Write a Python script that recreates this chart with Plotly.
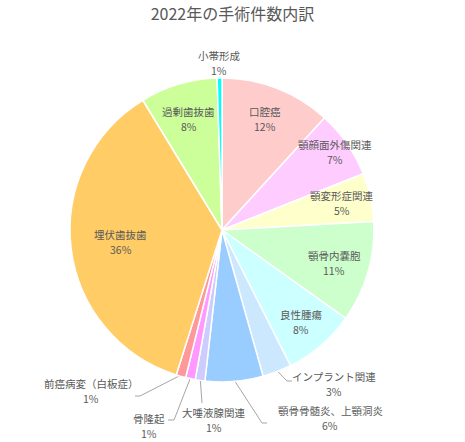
import numpy as np
import plotly.graph_objects as go

# 2022年の手術件数（件数は円グラフの角度から読み取った推定値）
labels = ["口腔癌", "顎顔面外傷関連", "顎変形症関連", "顎骨内嚢胞", "良性腫瘍",
          "インプラント関連", "顎骨骨髄炎、上顎洞炎", "大唾液腺関連", "骨隆起",
          "前癌病変（白板症）", "埋伏歯抜歯", "過剰歯抜歯", "小帯形成"]
counts = [23, 14, 10, 21, 15, 6, 12, 2, 2, 2, 71, 16, 1]
colors = ["#FFCCCC", "#FFCCFF", "#FFFFCC", "#CCFFCC", "#CCFFFF", "#CCE8FF",
          "#99CCFF", "#CCCCFF", "#FF99FF", "#FF9999", "#FFCC66", "#CCFF99",
          "#00FFFF"]

W, H = 465, 442
CX, CY, R = 222, 230, 152
TXT = "#595959"
FONT = "Noto Sans CJK JP"

fig = go.Figure()
fig.add_trace(go.Pie(
    labels=labels, values=counts, sort=False, direction="clockwise",
    rotation=0, textinfo="none", hole=0,
    marker=dict(colors=colors, line=dict(color="white", width=1.5)),
    domain=dict(x=[(CX - R) / W, (CX + R) / W],
                y=[1 - (CY + R) / H, 1 - (CY - R) / H]),
    showlegend=False,
))

vals = np.array(counts, dtype=float)
frac = vals / vals.sum()
mid = (np.cumsum(frac) - frac / 2) * 2 * np.pi


def pt(i, f):
    return CX + R * f * np.sin(mid[i]), CY - R * f * np.cos(mid[i])


annos = []


def label(name, pct, x, y, gap=15):
    annos.append(dict(x=x, y=y - gap / 2, text=name, showarrow=False,
                      xref="x", yref="y", font=dict(size=10.5, color=TXT, family=FONT)))
    annos.append(dict(x=x, y=y + gap / 2, text=pct, showarrow=False,
                      xref="x", yref="y", font=dict(size=10.5, color=TXT, family=FONT)))


# inside labels: radial factor per slice
inside = {0: 0.78, 1: 0.9, 2: 0.81, 3: 0.77, 4: 0.80, 10: 0.67, 11: 0.76, 12: 1.1}
for i, f in inside.items():
    x, y = pt(i, f)
    label(labels[i], f"{frac[i]:.0%}", x, y)

# outside labels with leader lines: (text centre, elbow, end)
outside = {
    5: ((334, 384), (287, 381), (292, 381)),
    6: ((330, 418), (262, 423), (267, 423)),
    7: ((214, 420), (202, 403), (202, 403)),
    8: ((149, 426), (174, 420), (168, 420)),
    9: ((91, 391), (140, 396), (135, 396)),
}
for i, (tc, elbow, end) in outside.items():
    sx, sy = pt(i, 0.99)
    fig.add_trace(go.Scatter(x=[sx, elbow[0], end[0]], y=[sy, elbow[1], end[1]],
                             mode="lines", line=dict(color="#A6A6A6", width=1),
                             hoverinfo="skip", showlegend=False))
    label(labels[i], f"{frac[i]:.0%}", tc[0], tc[1])

fig.update_layout(
    width=W, height=H,
    margin=dict(l=0, r=0, t=0, b=0),
    paper_bgcolor="white", plot_bgcolor="rgba(0,0,0,0)",
    xaxis=dict(range=[0, W], visible=False, fixedrange=True),
    yaxis=dict(range=[H, 0], visible=False, fixedrange=True),
    title=dict(text="2022年の手術件数内訳", x=0.5, xanchor="center",
               y=1 - 14 / H, yanchor="middle",
               font=dict(size=16, color=TXT, family=FONT)),
    annotations=annos,
)

# page body margin would push the fixed-size figure off the window
fig.write_html("out.html", config={"displayModeBar": False},
               post_script="document.body.style.margin='0';")
